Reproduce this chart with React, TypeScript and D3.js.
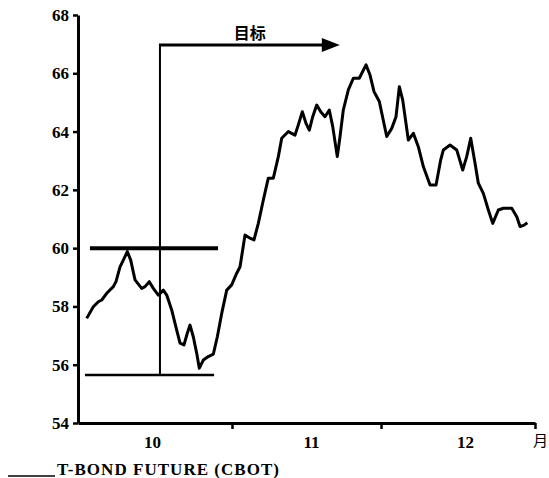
import React, { useEffect, useRef } from 'react'
import * as d3 from 'd3'

// 从10月1日起算的天数
const days = [
  1.75, 3.08, 4.09, 4.77, 5.78, 7.11, 7.65, 8.46, 9.12, 9.93,
  10.61, 11.48, 12.82, 13.49, 14.35, 15.16, 16.17, 17.17, 17.86, 18.86,
  19.87, 20.54, 21.34, 22.0, 22.55, 23.21, 23.9, 24.42, 25.23, 26.23,
  27.24, 28.05, 28.93, 29.94, 30.94, 31.95, 32.62, 33.62, 34.63, 35.43,
  36.3, 37.31, 38.31, 39.32, 40.33, 41.01, 42.34, 43.69, 44.35, 45.16,
  45.9, 46.57, 47.25, 48.06, 48.86, 49.73, 50.59, 51.28, 52.2, 52.75,
  53.41, 54.42, 55.43, 56.63, 57.98, 58.79, 59.59, 60.66, 62.15, 63.16,
  64.02, 64.69, 65.37, 66.5, 67.51, 68.51, 69.52, 70.87, 72.08, 73.02,
  73.55, 74.89, 76.24, 77.45, 78.25, 79.06, 79.93, 80.59, 81.6, 82.61,
  83.49, 84.62, 85.63, 87.32, 88.33, 88.99, 89.8, 90.46
]

// T-BOND 期货价格
const prices = [
  57.59, 57.99, 58.16, 58.22, 58.45, 58.68, 58.85, 59.36, 59.59, 59.88,
  59.59, 58.91, 58.62, 58.68, 58.85, 58.62, 58.39, 58.56, 58.39, 57.88,
  57.19, 56.74, 56.68, 57.08, 57.36, 56.96, 56.39, 55.88, 56.16, 56.28,
  56.36, 56.96, 57.76, 58.56, 58.74, 59.14, 59.36, 60.45, 60.34, 60.28,
  60.85, 61.65, 62.4, 62.4, 63.14, 63.77, 64.0, 63.88, 64.23, 64.68,
  64.28, 64.05, 64.51, 64.91, 64.68, 64.51, 64.74, 64.17, 63.14, 63.83,
  64.74, 65.43, 65.83, 65.83, 66.29, 65.94, 65.37, 65.03, 63.83, 64.11,
  64.51, 65.54, 65.08, 63.71, 63.94, 63.48, 62.8, 62.17, 62.17, 63.03,
  63.37, 63.54, 63.37, 62.68, 63.14, 63.77, 62.91, 62.23, 61.88, 61.31,
  60.85, 61.31, 61.37, 61.37, 61.08, 60.74, 60.79, 60.87
]

const yTicks = [54, 56, 58, 60, 62, 64, 66, 68]
const monthTicks = [31, 61, 92]
const monthLabels = ['10', '11', '12']
const monthLabelDays = [15, 47, 78]

// 阻力线、支撑线和目标
const resistance = { price: 60, from: 2.4, to: 28.2 }
const support = { price: 55.65, from: 1.4, to: 27.4 }
const breakoutDay = 16.5
const targetPrice = 66.97
const targetEndDay = 52.7

const W = 549
const H = 478

const App: React.FC = () => {
  const svgRef = useRef<SVGSVGElement>(null)

  useEffect(() => {
    const svg = d3.select(svgRef.current)
    svg.selectAll('*').remove()

    const x = d3.scaleLinear().domain([0, 92]).range([78, 535])
    const y = d3.scaleLinear().domain([54, 68]).range([423, 15])
    const serif = '"Liberation Serif", "DejaVu Serif", serif'

    svg.append('rect').attr('width', W).attr('height', H).attr('fill', '#fff')

    // Y轴
    const yAxis = svg.append('g')
      .attr('transform', `translate(${x(0)},0)`)
      .call(d3.axisLeft(y).tickValues(yTicks).tickSize(5).tickSizeOuter(0).tickPadding(4))
    yAxis.select('.domain').attr('stroke', '#000').attr('stroke-width', 3)
    yAxis.selectAll('.tick line').attr('stroke', '#000').attr('stroke-width', 2.5)
    yAxis.selectAll('.tick text')
      .attr('font-family', serif)
      .attr('font-weight', 'bold')
      .attr('font-size', '17px')
      .attr('fill', '#000')

    // X轴
    const xAxis = svg.append('g')
      .attr('transform', `translate(0,${y(54)})`)
      .call(d3.axisBottom(x).tickValues(monthTicks).tickSize(6).tickSizeOuter(0).tickFormat(() => ''))
    xAxis.select('.domain').attr('stroke', '#000').attr('stroke-width', 3)
    xAxis.selectAll('.tick line').attr('stroke', '#000').attr('stroke-width', 2.5)

    monthLabels.forEach((m, i) => {
      svg.append('text')
        .attr('x', x(monthLabelDays[i]))
        .attr('y', 448)
        .attr('text-anchor', 'middle')
        .attr('font-family', serif)
        .attr('font-weight', 'bold')
        .attr('font-size', '17px')
        .text(m)
    })

    svg.append('text')
      .attr('x', 533)
      .attr('y', 446)
      .attr('font-family', '"Noto Sans CJK SC", sans-serif')
      .attr('font-size', '15px')
      .text('月')

    // 阻力线与支撑线
    svg.append('line')
      .attr('x1', x(resistance.from)).attr('x2', x(resistance.to))
      .attr('y1', y(resistance.price)).attr('y2', y(resistance.price))
      .attr('stroke', '#000').attr('stroke-width', 4)

    svg.append('line')
      .attr('x1', x(support.from)).attr('x2', x(support.to))
      .attr('y1', y(support.price)).attr('y2', y(support.price))
      .attr('stroke', '#000').attr('stroke-width', 2.5)

    // 目标箭头
    svg.append('line')
      .attr('x1', x(breakoutDay)).attr('x2', x(breakoutDay))
      .attr('y1', y(support.price)).attr('y2', y(targetPrice))
      .attr('stroke', '#000').attr('stroke-width', 2)

    svg.append('line')
      .attr('x1', x(breakoutDay) - 1).attr('x2', x(targetEndDay) - 14)
      .attr('y1', y(targetPrice)).attr('y2', y(targetPrice))
      .attr('stroke', '#000').attr('stroke-width', 3)

    const ax = x(targetEndDay)
    const ay = y(targetPrice)
    svg.append('path')
      .attr('d', `M${ax},${ay} L${ax - 18},${ay - 7} L${ax - 18},${ay + 7} Z`)
      .attr('fill', '#000')

    svg.append('text')
      .attr('x', x(34.6))
      .attr('y', 39)
      .attr('text-anchor', 'middle')
      .attr('font-family', '"Noto Sans CJK SC", sans-serif')
      .attr('font-weight', 'bold')
      .attr('font-size', '16px')
      .text('目标')

    // 价格曲线
    const line = d3.line<number>()
      .x((_, i) => x(days[i]))
      .y(d => y(d))

    svg.append('path')
      .datum(prices)
      .attr('fill', 'none')
      .attr('stroke', '#000')
      .attr('stroke-width', 3)
      .attr('stroke-linejoin', 'round')
      .attr('d', line)

    // 图例
    svg.append('line')
      .attr('x1', 8).attr('x2', 55)
      .attr('y1', 476).attr('y2', 476)
      .attr('stroke', '#000').attr('stroke-width', 1.5)

    svg.append('text')
      .attr('x', 57)
      .attr('y', 475)
      .attr('font-family', serif)
      .attr('font-weight', 'bold')
      .attr('font-size', '17px')
      .attr('textLength', 222)
      .text('T-BOND FUTURE (CBOT)')
  }, [])

  return (
    <svg
      ref={svgRef}
      width={W}
      height={H}
      style={{ position: 'absolute', left: 0, top: 0, display: 'block' }}
    />
  )
}

export default App
